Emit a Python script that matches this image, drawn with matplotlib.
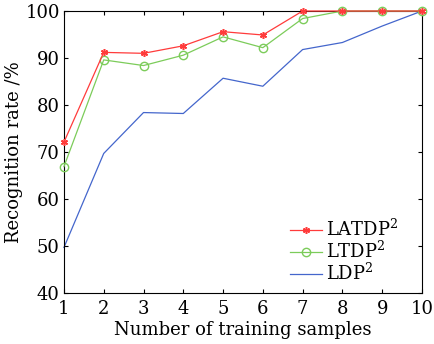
import matplotlib
matplotlib.use("Agg")
import matplotlib.pyplot as plt

samples = [1, 2, 3, 4, 5, 6, 7, 8, 9, 10]
latdp = [72.1, 91.2, 91.0, 92.6, 95.6, 94.9, 100, 100, 100, 100]
ltdp = [66.9, 89.6, 88.4, 90.6, 94.5, 92.2, 98.4, 100, 100, 100]
ldp = [49.7, 69.7, 78.4, 78.2, 85.7, 84.0, 91.8, 93.3, 96.8, 100]

plt.rcParams['font.family'] = ['DejaVu Serif']
plt.rcParams['mathtext.fontset'] = 'dejavuserif'

fig = plt.figure(figsize=(4.35, 3.44), dpi=100)
ax = fig.add_axes([0.147, 0.148, 0.823, 0.82])

ax.plot(samples, latdp, color='#ff3b3b', lw=0.9, marker=(6, 2, 0), ms=5, mew=1.1,
        label='LATDP$^2$', clip_on=False, zorder=4)
ax.plot(samples, ltdp, color='#7ccc5a', lw=0.9, marker='o', ms=6, mfc='none',
        label='LTDP$^2$', clip_on=False, zorder=3)
ax.plot(samples, ldp, color='#4466cc', lw=0.9, label='LDP$^2$', clip_on=False, zorder=2)

ax.set_xlim(1, 10)
ax.set_ylim(40, 100)
ax.set_xticks(samples)
ax.set_yticks([40, 50, 60, 70, 80, 90, 100])
ax.tick_params(direction='in', top=True, right=True, labelsize=13, length=3, pad=3)
ax.tick_params(axis='x', pad=5)
ax.set_xlabel('Number of training samples', fontsize=13, labelpad=2)
ax.set_ylabel('Recognition rate /%', fontsize=13, labelpad=2)

ax.legend(loc='lower right', frameon=False, fontsize=13, handlelength=1.8,
          handletextpad=0.2, labelspacing=0.05, borderaxespad=0.1,
          bbox_to_anchor=(0.96, 0.0))

fig.savefig('out.png', dpi=100)
